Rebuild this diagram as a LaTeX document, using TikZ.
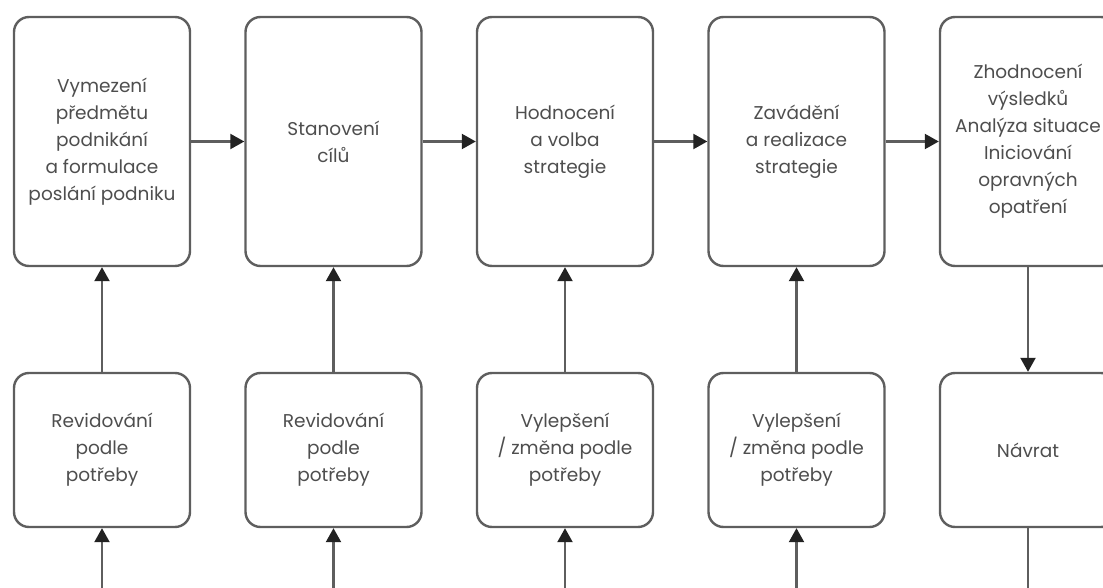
\documentclass[tikz,border=0pt]{standalone}
\usepackage{fontspec}
\setmainfont{Poppins}
\usetikzlibrary{arrows.meta}
\definecolor{edge}{HTML}{5E5E5E}
\definecolor{txt}{HTML}{4E4E4E}
\definecolor{tip}{HTML}{222222}
\begin{document}
\begin{tikzpicture}[x=1pt,y=-1pt,
  stage/.style={draw=edge, line width=2.4pt, rounded corners=15pt, fill=white,
    minimum width=176pt, minimum height=249pt, inner sep=0pt,
    text=txt, align=center, font=\fontsize{18.5}{27}\selectfont},
  revise/.style={stage, minimum height=154pt},
  flow/.style={draw=edge, line width=2.2pt, -{Triangle[length=14pt,width=15pt,color=tip]}},
  plain/.style={draw=edge, line width=2.2pt}]
\useasboundingbox (0,0) rectangle (1103,588);
% upper row: the strategy stages
\node[stage] (s1) at (102,141.5) {Vymezení\\předmětu\\podnikání\\a formulace\\poslání podniku};
\node[stage] (s2) at (333.5,141.5) {Stanovení\\cílů};
\node[stage] (s3) at (565,141.5) {Hodnocení\\a volba\\strategie};
\node[stage] (s4) at (796.5,141.5) {Zavádění\\a realizace\\strategie};
\node[stage] (s5) at (1028,141.5) {Zhodnocení\\výsledků\\Analýza situace\\Iniciování\\opravných\\opatření};
% lower row: feedback boxes
\node[revise] (r1) at (102,450) {Revidování\\podle\\potřeby};
\node[revise] (r2) at (333.5,450) {Revidování\\podle\\potřeby};
\node[revise] (r3) at (565,450) {Vylepšení\\/ změna podle\\potřeby};
\node[revise] (r4) at (796.5,450) {Vylepšení\\/ změna podle\\potřeby};
\node[revise] (r5) at (1028,450) {Návrat};
% entry points along the lower edge
\coordinate (b1) at (102,600);
\coordinate (b2) at (333.5,600);
\coordinate (b3) at (565,600);
\coordinate (b4) at (796.5,600);
\coordinate (b5) at (1028,600);
% main sequence
\draw[flow] (s1) -- (s2);
\draw[flow] (s2) -- (s3);
\draw[flow] (s3) -- (s4);
\draw[flow] (s4) -- (s5);
% feedback into the stages
\draw[flow] (r1) -- (s1);
\draw[flow] (r2) -- (s2);
\draw[flow] (r3) -- (s3);
\draw[flow] (r4) -- (s4);
\draw[flow] (s5) -- (r5);
\draw[flow] (b1) -- (r1);
\draw[flow] (b2) -- (r2);
\draw[flow] (b3) -- (r3);
\draw[flow] (b4) -- (r4);
\draw[plain] (r5) -- (b5);
\end{tikzpicture}
\end{document}
